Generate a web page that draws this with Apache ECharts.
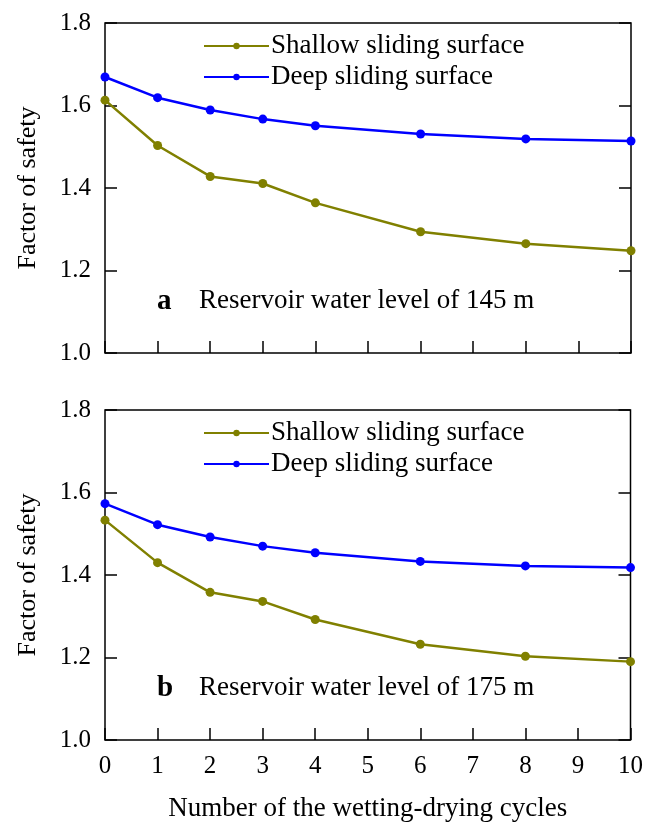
<!DOCTYPE html>
<html>
<head>
<meta charset="utf-8">
<script src="https://cdn.jsdelivr.net/npm/echarts@6/dist/echarts.min.js"></script>
<style>
  html, body { margin: 0; padding: 0; background: #fff; }
  #main { width: 646px; height: 827px; }
</style>
</head>
<body>
<div id="main"></div>
<script>
// x positions of the wetting-drying cycles
const cycles = [0, 1, 2, 3, 4, 6, 8, 10];
// panel a: reservoir water level 145 m
const shallowA = [1.613, 1.503, 1.428, 1.411, 1.364, 1.294, 1.265, 1.248];
const deepA = [1.669, 1.619, 1.589, 1.567, 1.551, 1.531, 1.519, 1.514];
// panel b: reservoir water level 175 m
const shallowB = [1.533, 1.430, 1.358, 1.336, 1.292, 1.232, 1.203, 1.190];
const deepB = [1.573, 1.522, 1.492, 1.470, 1.454, 1.433, 1.422, 1.418];
const names = ['Shallow sliding surface', 'Deep sliding surface'];
const notes = [['a', 'Reservoir water level of 145 m'], ['b', 'Reservoir water level of 175 m']];

const font = 'Liberation Serif, Times New Roman, serif';
const olive = '#808000';
const blue = '#0000ff';

const chart = echarts.init(document.getElementById('main'));

const tops = [23, 410];
const grids = tops.map(t => ({
  left: 105, right: 15, top: t, height: 330,
  show: true, borderColor: '#000', borderWidth: 1.5, backgroundColor: 'transparent'
}));

const xAxes = [0, 1].map(i => ({
  type: 'value', gridIndex: i, min: 0, max: 10, interval: 1,
  axisLine: { show: false },
  axisTick: { show: true, inside: true, length: 12, lineStyle: { color: '#000', width: 1.5 } },
  axisLabel: { show: i === 1, color: '#000', fontFamily: font, fontSize: 25, margin: 14 },
  splitLine: { show: false },
  name: i === 1 ? 'Number of the wetting-drying cycles' : '',
  nameLocation: 'middle', nameGap: 55,
  nameTextStyle: { color: '#000', fontFamily: font, fontSize: 27 }
}));

const yAxes = [];
[0, 1].forEach(i => {
  yAxes.push({
    type: 'value', gridIndex: i, min: 1.0, max: 1.8, interval: 0.2, position: 'left',
    axisLine: { show: false },
    axisTick: { show: true, inside: true, length: 12, lineStyle: { color: '#000', width: 1.5 } },
    axisLabel: { color: '#000', fontFamily: font, fontSize: 25, margin: 14,
      formatter: v => v.toFixed(1) },
    splitLine: { show: false },
    name: 'Factor of safety', nameLocation: 'middle', nameGap: 64,
    nameTextStyle: { color: '#000', fontFamily: font, fontSize: 26 }
  });
  yAxes.push({
    type: 'value', gridIndex: i, min: 1.0, max: 1.8, interval: 0.2, position: 'right',
    axisLine: { show: false },
    axisTick: { show: true, inside: true, length: 12, lineStyle: { color: '#000', width: 1.5 } },
    axisLabel: { show: false },
    splitLine: { show: false }
  });
});

function pts(vals) { return cycles.map((c, k) => [c, vals[k]]); }
function line(name, vals, color, gi) {
  return {
    name: name, type: 'line', xAxisIndex: gi, yAxisIndex: gi * 2,
    data: pts(vals), symbol: 'circle', symbolSize: 9,
    lineStyle: { color: color, width: 2.5 }, itemStyle: { color: color },
    emphasis: { disabled: true }, clip: false
  };
}

const series = [
  line(names[0], shallowA, olive, 0), line(names[1], deepA, blue, 0),
  line(names[0], shallowB, olive, 1), line(names[1], deepB, blue, 1)
];

const legends = tops.map(t => ({
  left: 198, top: t + 4, orient: 'vertical', itemGap: 3,
  itemWidth: 65, itemHeight: 8, selectedMode: false,
  data: names,
  textStyle: { color: '#000', fontFamily: font, fontSize: 27, lineHeight: 28, padding: [0, 0, 0, -3] }
}));

const graphics = notes.map((n, i) => ({
  type: 'group', left: 157, top: tops[i] + 264,
  children: [
    { type: 'text', left: 0, top: 0, style: { text: n[0], font: 'bold 29px ' + font, fill: '#000' } },
    { type: 'text', left: 42, top: 0, style: { text: n[1], font: '27px ' + font, fill: '#000' } }
  ]
}));

chart.setOption({
  animation: false,
  grid: grids,
  xAxis: xAxes,
  yAxis: yAxes,
  legend: legends,
  graphic: graphics,
  series: series
});
</script>
</body>
</html>
